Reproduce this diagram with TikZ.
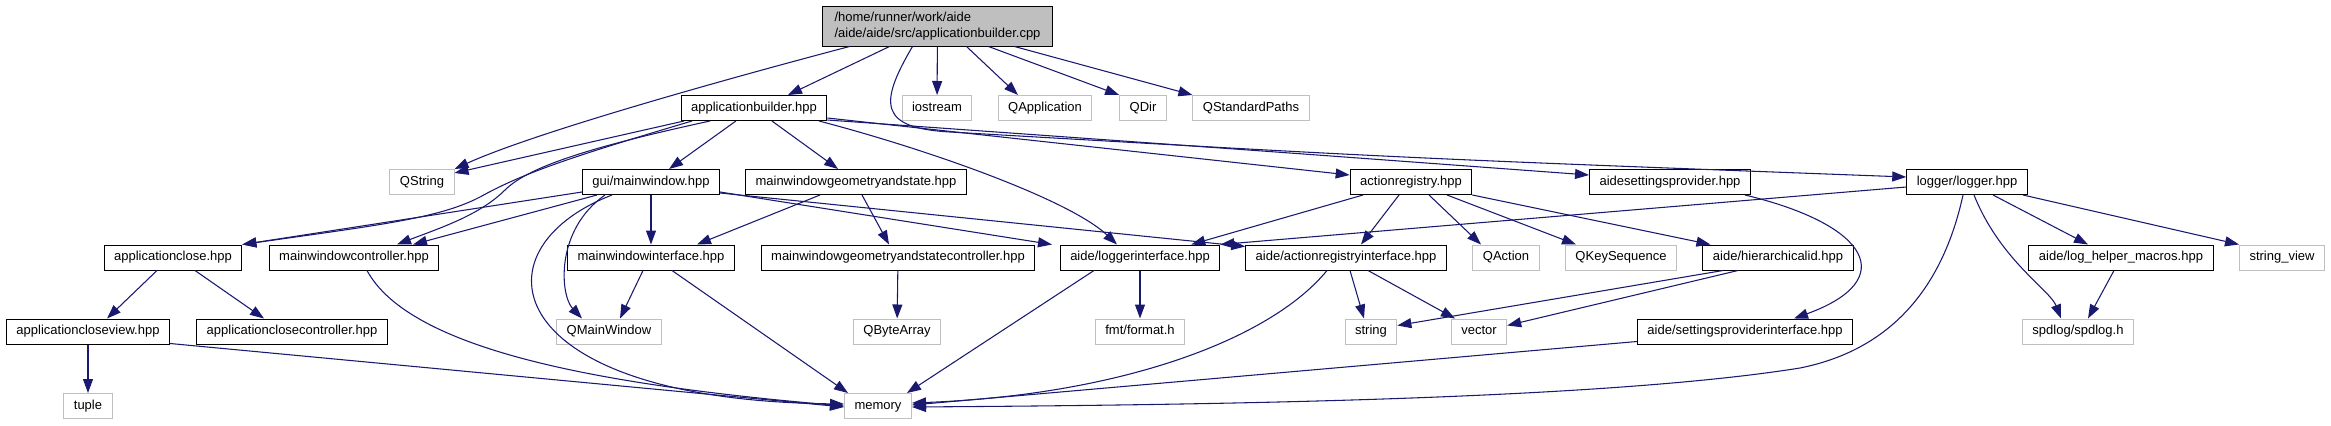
\documentclass[tikz,border=0pt]{standalone}
\usepackage{fontspec}
\setmainfont{Liberation Sans}
\usetikzlibrary{arrows.meta}
\usetikzlibrary{calc}
\definecolor{figAzulNoche}{RGB}{25,25,112}
\definecolor{figGris}{RGB}{191,191,191}
\tikzset{
  caja/.style={
    rectangle, line width=0.75pt, fill=white, inner xsep=7.5pt,
    minimum height=18.75pt, font=\fontsize{9.75}{12}\selectfont
  },
  cabecera/.style={caja, draw=black, text height=7.1pt, text depth=2.1pt},
  cabecerax/.style={caja, draw=figGris, text height=7.1pt, text depth=2.1pt},
  raiz/.style={caja, draw=black, fill=figGris, align=left,
    minimum width=172pt, minimum height=30pt},
  inclusion/.style={-{Triangle[length=10.5pt,width=7.5pt]}, line width=0.8pt, draw=figAzulNoche}
}
\begin{document}
\begin{tikzpicture}[x=0.75pt, y=-0.75pt]
  \useasboundingbox (0,0) rectangle (2331,425);

  % Nivel 0 y 1
  \node[raiz] (raiz) at (937.5,26) {/home/runner/work/aide\\/aide/aide/src/applicationbuilder.cpp};
  \node[cabecera] (ab) at (754,108) {applicationbuilder.hpp};
  \node[cabecerax] (ios) at (937,108) {iostream};
  \node[cabecerax] (qapp) at (1045,108) {QApplication};
  \node[cabecerax] (qdir) at (1143,108) {QDir};
  \node[cabecerax] (qsp) at (1251,108) {QStandardPaths};

  % Nivel 2
  \node[cabecerax] (qstr) at (422,182) {QString};
  \node[cabecera] (gmw) at (651,182) {gui/mainwindow.hpp};
  \node[cabecera] (mwgs) at (856,182) {mainwindowgeometryandstate.hpp};
  \node[cabecera] (areg) at (1411,182) {actionregistry.hpp};
  \node[cabecera] (asp) at (1670,182) {aidesettingsprovider.hpp};
  \node[cabecera] (log) at (1967,182) {logger/logger.hpp};

  % Nivel 3
  \node[cabecera] (acl) at (173,257.5) {applicationclose.hpp};
  \node[cabecera] (mwc) at (354,257.5) {mainwindowcontroller.hpp};
  \node[cabecera] (mwi) at (651,257.5) {mainwindowinterface.hpp};
  \node[cabecera] (mwgsc) at (898,257.5) {mainwindowgeometryandstatecontroller.hpp};
  \node[cabecera] (lif) at (1140,257.5) {aide/loggerinterface.hpp};
  \node[cabecera] (arif) at (1346,257.5) {aide/actionregistryinterface.hpp};
  \node[cabecerax] (qact) at (1506,257.5) {QAction};
  \node[cabecerax] (qks) at (1621,257.5) {QKeySequence};
  \node[cabecera] (hid) at (1778,257.5) {aide/hierarchicalid.hpp};
  \node[cabecera] (lhm) at (2121,257.5) {aide/log\_helper\_macros.hpp};
  \node[cabecerax] (sv) at (2282,257.5) {string\_view};

  % Nivel 4 y 5
  \node[cabecera] (aclv) at (88,331.5) {applicationcloseview.hpp};
  \node[cabecera] (aclc) at (292,331.5) {applicationclosecontroller.hpp};
  \node[cabecerax] (qmw) at (609,331.5) {QMainWindow};
  \node[cabecerax] (qba) at (897,331.5) {QByteArray};
  \node[cabecerax] (fmt) at (1140,331.5) {fmt/format.h};
  \node[cabecerax] (str) at (1371,331.5) {string};
  \node[cabecerax] (vec) at (1479,331.5) {vector};
  \node[cabecera] (spif) at (1745,331.5) {aide/settingsproviderinterface.hpp};
  \node[cabecerax] (spd) at (2078,331.5) {spdlog/spdlog.h};
  \node[cabecerax] (tup) at (88,406) {tuple};
  \node[cabecerax] (mem) at (878,406) {memory};

  % Inclusiones del fichero raíz
  \draw[inclusion] ($(raiz.south)+(-88,0)$) .. controls (760,70) and (540,130) .. (qstr.north east);
  \draw[inclusion] ($(raiz.south)+(-48,0)$) -- ($(ab.north)+(34,0)$);
  \draw[inclusion] ($(raiz.south)+(-25,0)$) .. controls (878,105) and (880,128) .. (950,132)
        .. controls (1400,158) .. ($(log.west)+(0,-5)$);
  \draw[inclusion] (raiz) -- (ios);
  \draw[inclusion] ($(raiz.south)+(29,0)$) -- ($(qapp.north)+(-27,0)$);
  \draw[inclusion] ($(raiz.south)+(51,0)$) -- (qdir.north west);
  \draw[inclusion] ($(raiz.south)+(77,0)$) -- (qsp.north west);

  % applicationbuilder.hpp
  \draw[inclusion] ($(ab.south)+(-70,0)$) -- ($(qstr.east)+(0,-9)$);
  \draw[inclusion] ($(ab.south)+(-62,0)$) .. controls (560,160) and (520,175) .. (480,197)
        .. controls (440,218) and (380,225) .. (acl.north east);
  \draw[inclusion] ($(ab.south)+(-44,0)$) .. controls (600,145) and (530,165) .. (505,190)
        .. controls (480,215) and (440,228) .. ($(mwc.north)+(43,0)$);
  \draw[inclusion] (ab) -- (gmw);
  \draw[inclusion] (ab) -- (mwgs);
  \draw[inclusion] ($(ab.south)+(65,0)$) .. controls (930,150) and (1070,200) .. ($(lif.north)+(-23,0)$);
  \draw[inclusion] ($(ab.east)+(0,10)$) -- ($(areg.west)+(0,-7)$);
  \draw[inclusion] ($(ab.east)+(0,12)$) .. controls (1250,150) .. ($(asp.west)+(0,-7)$);

  % gui/mainwindow.hpp
  \draw[inclusion] ($(gmw.west)+(0,10)$) -- (acl.north east);
  \draw[inclusion] ($(gmw.south)+(-54,0)$) -- ($(mwc.north)+(59,0)$);
  \draw[inclusion] ($(gmw.south)+(-46,0)$) .. controls (555,230) and (560,295) .. ($(qmw.north)+(-27,0)$);
  \draw[inclusion] ($(gmw.south)+(-39,0)$) .. controls (470,250) and (500,400) .. ($(mem.west)+(0,-2)$);
  \draw[inclusion] (gmw) -- (mwi);
  \draw[inclusion] ($(gmw.east)+(0,10)$) -- ($(lif.north)+(-88,0)$);
  \draw[inclusion] ($(gmw.east)+(0,11)$) -- ($(arif.west)+(0,-11)$);

  % mainwindowgeometryandstate.hpp
  \draw[inclusion] ($(mwgs.south)+(-36,0)$) -- ($(mwi.north)+(46,0)$);
  \draw[inclusion] ($(mwgs.south)+(6,0)$) -- ($(mwgsc.north)+(-9,0)$);

  % actionregistry.hpp
  \draw[inclusion] ($(areg.south)+(-48,0)$) -- ($(lif.north east)+(-29,0)$);
  \draw[inclusion] ($(areg.south)+(-12,0)$) -- ($(arif.north)+(15,0)$);
  \draw[inclusion] ($(areg.south)+(18,0)$) -- ($(qact.north)+(-25,0)$);
  \draw[inclusion] ($(areg.south)+(36,0)$) -- ($(qks.north)+(-45,0)$);
  \draw[inclusion] (areg.south east) -- ($(hid.north west)+(8,0)$);

  % aidesettingsprovider.hpp
  \draw[inclusion] ($(asp.south)+(75,0)$) .. controls (1870,225) and (1900,280) .. ($(spif.north)+(49,0)$);

  % logger/logger.hpp
  \draw[inclusion] ($(log.west)+(0,5)$) -- (lif.north east);
  \draw[inclusion] ($(log.south)+(-4,0)$) .. controls (1940,300) and (1880,352) .. (1800,368)
        .. controls (1600,400) and (1200,405) .. ($(mem.east)+(0,1)$);
  \draw[inclusion] ($(log.south)+(7,0)$) .. controls (2000,260) and (2050,290) .. ($(spd.north)+(-17,0)$);
  \draw[inclusion] ($(log.south)+(26,0)$) -- ($(lhm.north)+(-33,0)$);
  \draw[inclusion] ($(log.south)+(56,0)$) -- (sv.north west);

  % Nivel 3 hacia abajo
  \draw[inclusion] ($(acl.south)+(-16,0)$) -- ($(aclv.north)+(19,0)$);
  \draw[inclusion] ($(acl.south)+(22,0)$) -- ($(aclc.north)+(-28,0)$);
  \draw[inclusion] ($(mwc.south)+(13,0)$) .. controls (410,350) and (600,385) .. ($(mem.west)+(0,0)$);
  \draw[inclusion] ($(mwi.south)+(-8,0)$) -- ($(qmw.north)+(11,0)$);
  \draw[inclusion] ($(mwi.south)+(21,0)$) -- ($(mem.north)+(-30,0)$);
  \draw[inclusion] (mwgsc) -- (qba);
  \draw[inclusion] ($(lif.south)+(-46,0)$) -- ($(mem.north east)+(-5,0)$);
  \draw[inclusion] (lif) -- (fmt);
  \draw[inclusion] ($(arif.south)+(-19,0)$) .. controls (1270,340) and (1120,395) .. ($(mem.east)+(0,-3)$);
  \draw[inclusion] ($(arif.south)+(4,0)$) -- ($(str.north)+(-7,0)$);
  \draw[inclusion] ($(arif.south)+(22,0)$) -- ($(vec.north)+(-24,0)$);
  \draw[inclusion] ($(hid.south)+(-55,0)$) -- ($(str.east)+(0,-6)$);
  \draw[inclusion] ($(hid.south)+(-40,0)$) -- ($(vec.east)+(0,-6)$);
  \draw[inclusion] ($(lhm.south)+(-7,0)$) -- ($(spd.north)+(10,0)$);

  % Nivel 4 hacia memory y tuple
  \draw[inclusion] ($(spif.west)+(0,10)$) -- ($(mem.east)+(0,-1)$);
  \draw[inclusion] ($(aclv.east)+(0,12)$) -- ($(mem.west)+(0,1)$);
  \draw[inclusion] (aclv) -- (tup);
\end{tikzpicture}
\end{document}
